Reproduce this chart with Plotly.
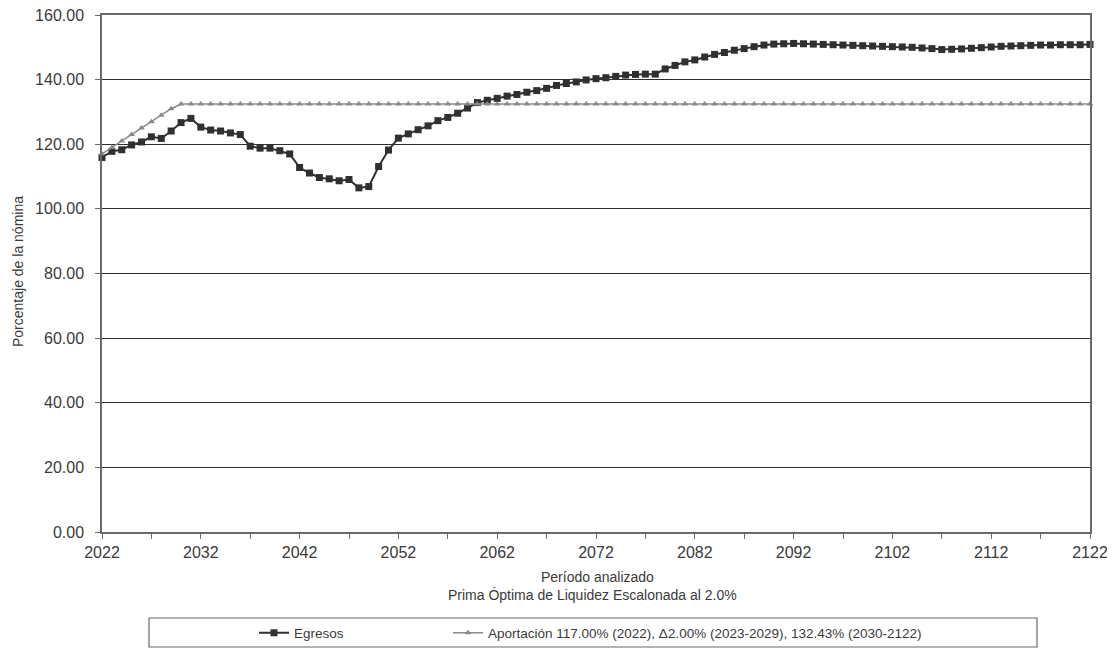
import plotly.graph_objects as go

# años del periodo analizado
years = list(range(2022, 2123))

# Egresos (% de la nómina)
egresos = [
    115.9, 117.8, 118.3, 119.8, 120.7, 122.3, 121.8, 124.1, 126.7, 128.0,
    125.3, 124.4, 124.1, 123.5, 123.0, 119.4, 118.8, 118.8, 118.0, 117.0,
    112.8, 111.1, 109.7, 109.3, 108.7, 109.1, 106.5, 106.9, 113.1, 118.2,
    121.9, 123.2, 124.5, 125.7, 127.3, 128.3, 129.6, 131.2, 132.9, 133.6,
    134.2, 134.9, 135.4, 136.1, 136.6, 137.3, 138.2, 138.8, 139.3, 139.9,
    140.3, 140.6, 141.0, 141.4, 141.6, 141.7, 141.7, 143.3, 144.4, 145.5,
    146.1, 147.0, 147.8, 148.4, 149.1, 149.6, 150.2, 150.7, 151.0, 151.1,
    151.2, 151.1, 151.0, 150.9, 150.8, 150.7, 150.6, 150.5, 150.4, 150.3,
    150.2, 150.1, 150.0, 149.8, 149.6, 149.3, 149.4, 149.5, 149.7, 149.9,
    150.1, 150.3, 150.4, 150.5, 150.6, 150.7, 150.7, 150.8, 150.8, 150.8,
    150.9,
]

# Aportación: 117.00% (2022), +2.00% anual (2023-2029), 132.43% (2030-2122)
aportacion_escalon = [117.0, 119.0, 121.0, 123.0, 125.0, 127.0, 129.0, 131.0]
aportacion_nivel = [132.43] * 93
aportacion = aportacion_escalon + aportacion_nivel

x_ticks = list(range(2022, 2123, 10))
y_ticks = list(range(0, 161, 20))

FONT = "Liberation Sans, Arial, sans-serif"
TXT = "#3a3a3a"
AXIS = "#6a6a6a"

# el body de la página deja 8 px arriba/izquierda; la figura llega al borde
OFF = 8
W, H = 1115 - OFF, 650 - OFF
# área de trazado (coordenadas de la página: 102..1090 x 15..532)
L, T = 102 - OFF, 15 - OFF
R, B = W - (1090 - OFF), H - (532 - OFF)
PW, PH = W - L - R, H - T - B


def px_x(p):
    return (p - OFF - L) / PW


def px_y(p):
    return (H - B - (p - OFF)) / PH


fig = go.Figure()

fig.add_trace(go.Scatter(
    x=years, y=egresos, mode="lines+markers", name="Egresos",
    line=dict(color="#303030", width=2),
    marker=dict(symbol="square", size=7, color="#303030"),
    cliponaxis=False, legend="legend",
))
fig.add_trace(go.Scatter(
    x=years, y=aportacion, mode="lines+markers",
    name="Aportación 117.00% (2022), \u03942.00% (2023-2029), 132.43% (2030-2122)",
    line=dict(color="#8a8a8a", width=1.5),
    marker=dict(symbol="triangle-up", size=6, color="#8a8a8a"),
    cliponaxis=False, legend="legend2",
))

# recuadro de la leyenda
fig.add_shape(
    type="rect", xref="paper", yref="paper",
    x0=px_x(149), x1=px_x(1037), y0=px_y(647), y1=px_y(618),
    line=dict(color=AXIS, width=1.2), fillcolor="white", layer="below",
)

fig.add_annotation(
    text="Período analizado", xref="paper", yref="paper",
    x=px_x(597), y=px_y(577), yanchor="middle",
    showarrow=False, font=dict(family=FONT, size=14, color=TXT),
)
fig.add_annotation(
    text="Prima Óptima de Liquidez Escalonada al 2.0%", xref="paper", yref="paper",
    x=px_x(592), y=px_y(595), yanchor="middle",
    showarrow=False, font=dict(family=FONT, size=14, color=TXT),
)
fig.add_annotation(
    text="Porcentaje de la nómina", xref="paper", yref="paper",
    x=px_x(18), y=px_y(272), textangle=-90, xanchor="center", yanchor="middle",
    showarrow=False, font=dict(family=FONT, size=14, color=TXT),
)

legend_style = dict(
    orientation="h", yanchor="middle", y=px_y(633),
    bgcolor="rgba(0,0,0,0)", font=dict(family=FONT, size=13.5, color=TXT),
    itemwidth=30, xanchor="left",
)

fig.update_layout(
    width=W, height=H,
    margin=dict(l=L, r=R, t=T, b=B, autoexpand=False),
    plot_bgcolor="white", paper_bgcolor="white",
    font=dict(family=FONT, size=16, color=TXT),
    showlegend=True,
    legend=dict(x=px_x(254), **legend_style),
    legend2=dict(x=px_x(448), **legend_style),
    xaxis=dict(
        range=[2022, 2122], tickvals=x_ticks, showgrid=False,
        showline=True, linecolor=AXIS, linewidth=1.5, mirror=True,
        ticks="outside", ticklen=5, tickcolor=AXIS, ticklabeloverflow="allow",
        minor=dict(dtick=5, tick0=2022, ticks="outside", ticklen=5, tickcolor=AXIS),
        zeroline=False, automargin=False,
    ),
    yaxis=dict(
        range=[0, 160], tickvals=y_ticks, tickformat=".2f",
        showgrid=True, gridcolor="#2e2e2e", gridwidth=1,
        showline=True, linecolor=AXIS, linewidth=1.5, mirror=True,
        ticks="outside", ticklen=5, tickcolor=AXIS, ticklabelstandoff=8,
        ticklabeloverflow="allow",
        zeroline=False, automargin=False,
    ),
)

fig.write_html("out.html")
